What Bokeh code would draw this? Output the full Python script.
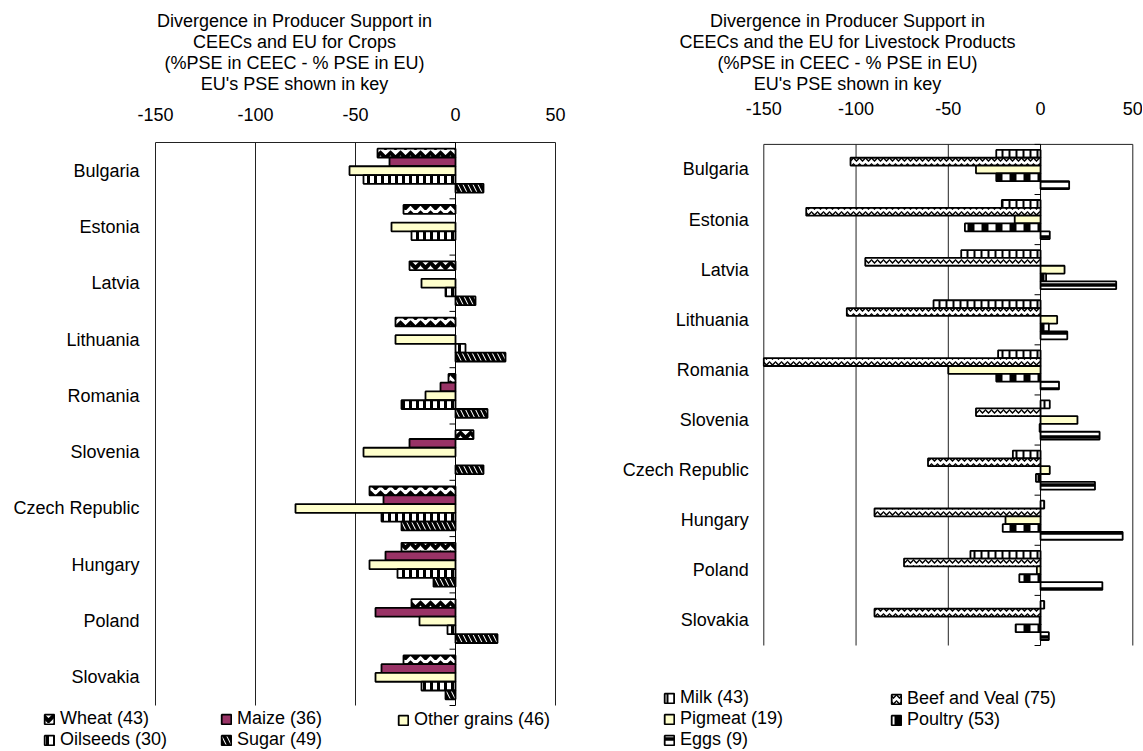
from bokeh.plotting import figure
from bokeh.models import (Range1d, Label, Legend, LegendItem, ColumnDataSource)
from bokeh.core.properties import value
from bokeh.transform import dodge
from bokeh.layouts import row
from bokeh.embed import file_html
from bokeh.resources import INLINE

nan = float("nan")

# ---------------- data ----------------
countries = ["Bulgaria", "Estonia", "Latvia", "Lithuania", "Romania",
             "Slovenia", "Czech Republic", "Hungary", "Poland", "Slovakia"]
x_ticks = [-150, -100, -50, 0, 50]

crop_labels = ["Wheat (43)", "Maize (36)", "Other grains (46)", "Oilseeds (30)", "Sugar (49)"]
wheat = [-39, -26, -23, -30, -3.5, 9, -43, -27, -22, -26]
maize = [-33, nan, nan, nan, -7.5, -23, -36, -35, -40, -37]
other_grains = [-53, -32, -17, -30, -15, -46, -80, -43, -18, -40]
oilseeds = [-46, -22, -5, 5, -27, nan, -37, -29, -4, -17]
sugar = [14, nan, 10, 25, 16, 14, -27, -11, 21, -5]

livestock_labels = ["Milk (43)", "Beef and Veal (75)", "Pigmeat (19)", "Poultry (53)", "Eggs (9)"]
milk = [-24, -21, -43, -58, -23, 5, -15, 2, -38, 2]
beef_veal = [-103, -127, -95, -105, -150, -35, -61, -90, -74, -90]
pigmeat = [-35, -14, 13, 9, -50, 20, 5, -19, -2, -0.5]
poultry = [-24, -41, 3, 4.5, -24, -0.5, -2.5, -20.5, -11.5, -13.5]
eggs = [15.5, 5, 41, 14.5, 10, 32, 29.5, 44.5, 33.5, 4.5]

crop_title = ["Divergence in Producer Support in", "CEECs and EU for Crops",
              "(%PSE in CEEC - % PSE in EU)", "EU's PSE shown in key"]
livestock_title = ["Divergence in Producer Support in", "CEECs and the EU for Livestock Products",
                   "(%PSE in CEEC - % PSE in EU)", "EU's PSE shown in key"]

# ---------------- styles ----------------
FONT = "Liberation Sans"
FS = "18px"
crop_styles = [
    dict(fill_color="white", hatch_pattern="horizontal_wave", hatch_scale=10, hatch_weight=4),
    dict(fill_color="#993366"),
    dict(fill_color="#FFFFCC"),
    dict(fill_color="white", hatch_pattern="vertical_line", hatch_scale=7, hatch_weight=3),
    dict(fill_color="white", hatch_pattern="left_diagonal_line", hatch_scale=10, hatch_weight=3.5),
]
livestock_styles = [
    dict(fill_color="white", hatch_pattern="vertical_line", hatch_scale=7, hatch_weight=2),
    dict(fill_color="white", hatch_pattern="horizontal_wave", hatch_scale=6, hatch_weight=1.5),
    dict(fill_color="#FFFFCC"),
    dict(fill_color="white", hatch_pattern="vertical_line", hatch_scale=14, hatch_weight=7),
    dict(fill_color="white", hatch_pattern="horizontal_line", hatch_scale=8, hatch_weight=3.5),
]
LINE = "#222222"
W, H = 571, 750
ROW_H = 20  # legend row height


def make_chart(geom, title_lines, labels, series, styles, legend_cols):
    """geom: pixel layout of the plot area inside the figure (not data)."""
    n = len(countries)
    xpx = (geom["x_right"] - geom["x_left"]) / (x_ticks[-1] - x_ticks[0])
    ypx = (geom["y_bottom"] - geom["y_top"]) / n
    x0 = x_ticks[0] - geom["x_left"] / xpx
    y0 = -(H - geom["y_bottom"]) / ypx
    p = figure(width=W, height=H, output_backend="svg", toolbar_location=None,
               x_range=Range1d(x0, x0 + W / xpx), y_range=Range1d(y0, y0 + H / ypx),
               x_axis_location=None, y_axis_location=None,
               min_border=0, min_border_left=0, min_border_right=0,
               min_border_top=0, min_border_bottom=0)
    p.outline_line_color = None
    p.grid.grid_line_color = None
    p.background_fill_color = "white"
    p.border_fill_color = "white"

    # value scale: grid lines, top line, tick labels
    grid_x = [t for t in x_ticks if t != 0]
    p.segment(x0=grid_x, x1=grid_x, y0=[0] * len(grid_x), y1=[n] * len(grid_x),
              line_color=LINE, line_width=1)
    p.segment(x0=[x_ticks[0]], x1=[x_ticks[-1]], y0=[n], y1=[n], line_color=LINE, line_width=1)
    p.text(x=x_ticks, y=[n] * len(x_ticks), text=[str(t) for t in x_ticks],
           y_offset=-geom["tick_gap"], text_align="center", text_baseline="middle",
           text_font=value(FONT), text_font_size=FS, text_color="black")

    # category axis at zero with ticks between categories, labels at the left
    p.segment(x0=[0], x1=[0], y0=[0], y1=[n], line_color="black", line_width=1)
    nb = n + 1
    tick = 6 / xpx
    p.segment(x0=[-tick] * nb, x1=[0] * nb, y0=list(range(nb)), y1=list(range(nb)),
              line_color="black", line_width=1)
    centers = [n - 0.5 - i for i in range(n)]
    p.text(x=[x_ticks[0]] * n, y=centers, text=countries, x_offset=-geom["label_gap"],
           text_align="right", text_baseline="middle",
           text_font=value(FONT), text_font_size=FS, text_color="black")

    # bars
    src = ColumnDataSource(dict(pos=centers, **{f"s{i}": s for i, s in enumerate(series)}))
    k = len(series)
    bar_h = 0.156
    renderers = []
    for i, st in enumerate(styles):
        off = (k - 1) / 2 * bar_h - i * bar_h
        r = p.hbar(y=dodge("pos", off), left=0, right=f"s{i}",
                   height=bar_h, source=src, line_color="black", line_width=1.8,
                   hatch_color="black", **st)
        renderers.append(r)

    # title
    for t, ty in zip(title_lines, geom["title_y"]):
        p.add_layout(Label(x=geom["title_cx"], y=H - ty, x_units="screen", y_units="screen",
                           text=t, text_align="center", text_baseline="middle",
                           text_font=FONT, text_font_size=FS, text_color="black"))

    # legend: one column each, columns top-aligned
    max_rows = max(len(c) for c in legend_cols)
    for col, lx in zip(legend_cols, geom["legend_x"]):
        items = [LegendItem(label=labels[i], renderers=[renderers[i]]) for i in col]
        ly = geom["legend_bottom"] + (max_rows - len(col)) * ROW_H
        leg = Legend(items=items, location=(lx, ly), orientation="vertical",
                     padding=0, margin=0, spacing=0, glyph_width=12, glyph_height=12,
                     label_height=ROW_H, label_standoff=5, label_text_font=FONT,
                     label_text_font_size=FS, label_text_color="black",
                     border_line_alpha=0, background_fill_alpha=0)
        p.add_layout(leg)
    return p


left_geom = dict(x_left=155, x_right=555, y_top=142, y_bottom=705, tick_gap=28, label_gap=16,
                 title_cx=294, title_y=[20, 41, 62, 83], legend_x=[43, 220, 397], legend_bottom=0)
right_geom = dict(x_left=192.3, x_right=561.3, y_top=143.9, y_bottom=645, tick_gap=36, label_gap=15,
                  title_cx=276, title_y=[20, 41, 62, 83], legend_x=[92, 319], legend_bottom=0)

left = make_chart(left_geom, crop_title, crop_labels,
                  [wheat, maize, other_grains, oilseeds, sugar], crop_styles,
                  [[0, 3], [1, 4], [2]])
right = make_chart(right_geom, livestock_title, livestock_labels,
                   [milk, beef_veal, pigmeat, poultry, eggs], livestock_styles,
                   [[0, 2, 4], [1, 3]])

layout = row(left, right)
open("out.html", "w").write(file_html(layout, INLINE))
